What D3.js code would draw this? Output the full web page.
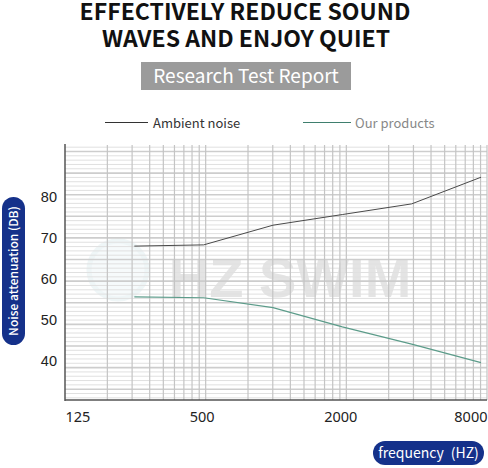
<!DOCTYPE html>
<html>
<head>
<meta charset="utf-8">
<script src="https://cdn.jsdelivr.net/npm/d3@7"></script>
<style>
  body { margin: 0; background: #fff; }
  svg { display: block; font-family: "Noto Sans CJK SC", "Noto Sans", sans-serif; }
</style>
</head>
<body>
<div class="chart"></div>
<script>
// data
const freqs = [250, 500, 1000, 2000, 4000, 8000];
const ambient = [67.9, 68.2, 73.0, 75.6, 78.2, 84.7];
const products = [55.5, 55.3, 52.9, 48.2, 44.0, 39.5];
const xTicks = [125, 500, 2000, 8000];
const yTicks = [40, 50, 60, 70, 80];
const seriesNames = ["Ambient noise", "Our products"];

const width = 488, height = 468;
const plot = {left: 65, right: 487, top: 145, bottom: 400};

const svg = d3.select(".chart").append("svg")
    .attr("width", width)
    .attr("height", height);

// heading
svg.append("text").attr("x", 245).attr("y", 20)
    .attr("text-anchor", "middle").attr("font-weight", 700).attr("font-size", 23)
    .attr("fill", "#111").text("EFFECTIVELY REDUCE SOUND");
svg.append("text").attr("x", 246).attr("y", 46.5)
    .attr("text-anchor", "middle").attr("font-weight", 700).attr("font-size", 23)
    .attr("fill", "#111").text("WAVES AND ENJOY QUIET");

svg.append("rect").attr("x", 141).attr("y", 62).attr("width", 210).attr("height", 28)
    .attr("fill", "#9b9b9b");
svg.append("text").attr("x", 246).attr("y", 83)
    .attr("text-anchor", "middle").attr("font-size", 19).attr("fill", "#fff")
    .text("Research Test Report");

// log-paper background (its own scales, not the data ones)
const paperX = d3.scaleLog().domain([1, 1000]).range([plot.left, plot.right]);
const paperY = d3.scaleLinear().domain([-2.5, 56.5]).range([plot.bottom, plot.top]);

// watermark
const wm = svg.append("g").attr("opacity", 0.35);
wm.append("circle").attr("cx", 118).attr("cy", 270).attr("r", 29)
    .attr("fill", "#e6f1f4").attr("stroke", "#d3e6eb").attr("stroke-width", 5);
wm.append("text").attr("x", 290).attr("y", 297)
    .attr("text-anchor", "middle").attr("font-family", "Liberation Sans, sans-serif")
    .attr("font-weight", 700).attr("font-size", 56)
    .attr("fill", "#b5b5b5").text("HZ SWIM");

const grid = svg.append("g");
grid.selectAll(".hmin")
    .data(d3.range(-2, 57).filter(d => d % 5 !== 0))
  .enter().append("line")
    .attr("x1", plot.left).attr("x2", plot.right)
    .attr("y1", d => paperY(d)).attr("y2", d => paperY(d))
    .attr("stroke", "#e0e0e0").attr("stroke-width", 1);
grid.selectAll(".hmaj")
    .data(d3.range(0, 57, 5))
  .enter().append("line")
    .attr("x1", plot.left).attr("x2", plot.right)
    .attr("y1", d => paperY(d)).attr("y2", d => paperY(d))
    .attr("stroke", "#cdcdcd").attr("stroke-width", 1.6);
grid.selectAll(".v")
    .data(paperX.ticks().filter(d => d > 1))
  .enter().append("line")
    .attr("x1", d => paperX(d)).attr("x2", d => paperX(d))
    .attr("y1", plot.top).attr("y2", plot.bottom)
    .attr("stroke", "#c4c4c4").attr("stroke-width", 1.2);

// data scales
const x = d3.scaleLog().base(2).domain([125, 8000]).range([plot.left, 481]);
const y = d3.scaleLinear().domain([40, 80]).range([360.5, 196.5]);

const line = d3.line()
    .x(d => x(d[0]))
    .y(d => y(d[1]));

svg.append("path")
    .datum(d3.zip(freqs, ambient))
    .attr("d", line).attr("fill", "none")
    .attr("stroke", "#4a4a4a").attr("stroke-width", 1);
svg.append("path")
    .datum(d3.zip(freqs, products))
    .attr("d", line).attr("fill", "none")
    .attr("stroke", "#5c9c8a").attr("stroke-width", 1.2);

// axes
const xAxis = d3.axisBottom(x).tickValues(xTicks).tickSize(0).tickPadding(12)
    .tickFormat(d3.format("d"));
const gx = svg.append("g").attr("transform", "translate(0," + plot.bottom + ")").call(xAxis);
gx.select(".domain").remove();
gx.selectAll("text")
    .attr("font-family", "Noto Sans, sans-serif").attr("font-size", 14.5).attr("fill", "#222")
    .attr("text-anchor", (d, i) => i === 0 ? "start" : (i === xTicks.length - 1 ? "end" : "middle"))
    .attr("dx", (d, i) => i === 0 ? 0 : (i === xTicks.length - 1 ? 6 : -2));

const yAxis = d3.axisLeft(y).tickValues(yTicks).tickSize(0).tickPadding(8);
const gy = svg.append("g").attr("transform", "translate(" + plot.left + ",0)").call(yAxis);
gy.select(".domain").remove();
gy.selectAll("text")
    .attr("font-family", "Liberation Sans, Arial, sans-serif").attr("font-size", 14.5).attr("fill", "#222");

svg.append("line").attr("x1", plot.left).attr("x2", plot.left)
    .attr("y1", plot.top - 1).attr("y2", plot.bottom + 1)
    .attr("stroke", "#555").attr("stroke-width", 1.5);
svg.append("line").attr("x1", plot.left).attr("x2", plot.right)
    .attr("y1", plot.bottom).attr("y2", plot.bottom)
    .attr("stroke", "#555").attr("stroke-width", 1.5);

// legend
const legend = svg.append("g");
legend.append("line").attr("x1", 105).attr("x2", 148).attr("y1", 122.5).attr("y2", 122.5)
    .attr("stroke", "#333").attr("stroke-width", 1.2);
legend.append("text").attr("x", 153).attr("y", 127.5).attr("font-size", 13)
    .attr("fill", "#333").text(seriesNames[0]);
legend.append("line").attr("x1", 303).attr("x2", 351).attr("y1", 122.5).attr("y2", 122.5)
    .attr("stroke", "#3f7f6e").attr("stroke-width", 1.2);
legend.append("text").attr("x", 355).attr("y", 127.5).attr("font-size", 13)
    .attr("fill", "#888").text(seriesNames[1]);

// axis title pills
svg.append("rect").attr("x", 2).attr("y", 197).attr("width", 23).attr("height", 148)
    .attr("rx", 11.5).attr("fill", "#15318a");
svg.append("text").attr("transform", "translate(18,271) rotate(-90)")
    .attr("text-anchor", "middle").attr("font-size", 12).attr("font-weight", 500)
    .attr("fill", "#fff").text("Noise attenuation (DB)");

svg.append("rect").attr("x", 373).attr("y", 441).attr("width", 111).attr("height", 24)
    .attr("rx", 12).attr("fill", "#15318a");
svg.append("text").attr("x", 428.5).attr("y", 458)
    .attr("text-anchor", "middle").attr("font-size", 14)
    .attr("fill", "#fff").text("frequency\u2002(HZ)");
</script>
</body>
</html>
